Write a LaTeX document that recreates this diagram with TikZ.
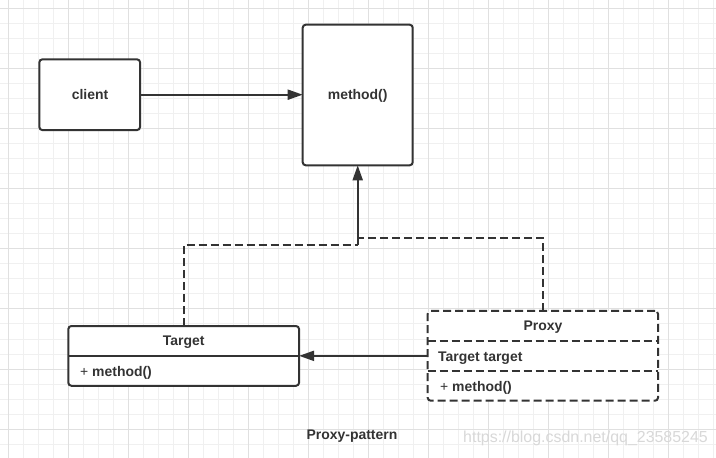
\documentclass[tikz,border=0pt]{standalone}
\usepackage{fontspec}
\setmainfont{Liberation Sans}
\usetikzlibrary{arrows.meta}
\definecolor{ink}{HTML}{333333}
\definecolor{gminor}{HTML}{F0F0F0}
\definecolor{gmajor}{HTML}{E0E0E0}
\definecolor{wmark}{HTML}{D8D8D8}
\begin{document}
\begin{tikzpicture}[x=1bp,y=-1bp,
  box/.style={draw=ink, fill=white, rounded corners=3bp, line width=2bp, inner sep=0pt, outer sep=0pt},
  lbl/.style={text=ink, font=\bfseries\fontsize{14}{16}\selectfont, inner sep=0pt, text height=10bp, text depth=0bp},
  arr/.style={draw=ink, line width=2bp, -{Triangle[length=15bp,width=10bp]}},
  dsh/.style={draw=ink, line width=2bp, dash pattern=on 8bp off 4bp},
  ln/.style={draw=ink, line width=2bp}]
\useasboundingbox (0,0) rectangle (716,458);
\fill[white] (0,0) rectangle (716,458);
\foreach \x in {8,23,...,716} \draw[gminor,line width=1bp] (\x,0) -- (\x,458);
\foreach \y in {9,24,...,458} \draw[gminor,line width=1bp] (0,\y) -- (716,\y);
\foreach \x in {8,68,...,716} \draw[gmajor,line width=1bp] (\x,0) -- (\x,458);
\foreach \y in {9,69,...,458} \draw[gmajor,line width=1bp] (0,\y) -- (716,\y);

% boxes
\node[box, minimum width=100.7bp, minimum height=70.7bp] (client) at (89.7,94.7) {};
\node[lbl] (clienttxt) at (90,95) {client};
\node[box, minimum width=110bp, minimum height=140.6bp] (method) at (357.7,95) {};
\node[lbl] (methodtxt) at (357.7,95) {method()};

\node[box, minimum width=230.7bp, minimum height=59.7bp] (target) at (183.7,355.9) {};
\coordinate (tdiv) at (183.7,356);
\draw[ln] (target.west |- tdiv) -- (target.east |- tdiv);
\node[lbl] (tname) at (183.7,341) {Target};
\node[lbl, anchor=west] (tmeth) at (80,371.5) {{\mdseries +}\ method()};

\node[box, dash pattern=on 8bp off 4bp, minimum width=230.3bp, minimum height=89.7bp] (proxy) at (542.85,355.85) {};
\coordinate (pdiv1) at (542.85,341);
\coordinate (pdiv2) at (542.85,370.7);
\draw[dsh] (proxy.west |- pdiv1) -- (proxy.east |- pdiv1);
\draw[dsh] (proxy.west |- pdiv2) -- (proxy.east |- pdiv2);
\node[lbl] (pname) at (543,326) {Proxy};
\node[lbl, anchor=west] (pfield) at (438,356) {Target target};
\node[lbl, anchor=west] (pmeth) at (440,386) {{\mdseries +}\ method()};

% connectors
\draw[arr] (client.east) -- (client.east -| method.west);
\draw[arr] (proxy.west) -- (proxy.west -| target.east);
\coordinate (j1) at (357.7,245);
\coordinate (j2) at (357.7,238);
\draw[dsh] (target.north) |- (j1);
\draw[dsh] (proxy.north) |- (j2);
\draw[arr] (j1) -- (method.south);

% captions
\node[lbl] (caption) at (352,434.5) {Proxy-pattern};
\node[text=wmark, font=\fontsize{16}{18}\selectfont, inner sep=0pt, anchor=west] (wm) at (463,438) {https://blog.csdn.net/qq\_23585245};
\end{tikzpicture}
\end{document}
